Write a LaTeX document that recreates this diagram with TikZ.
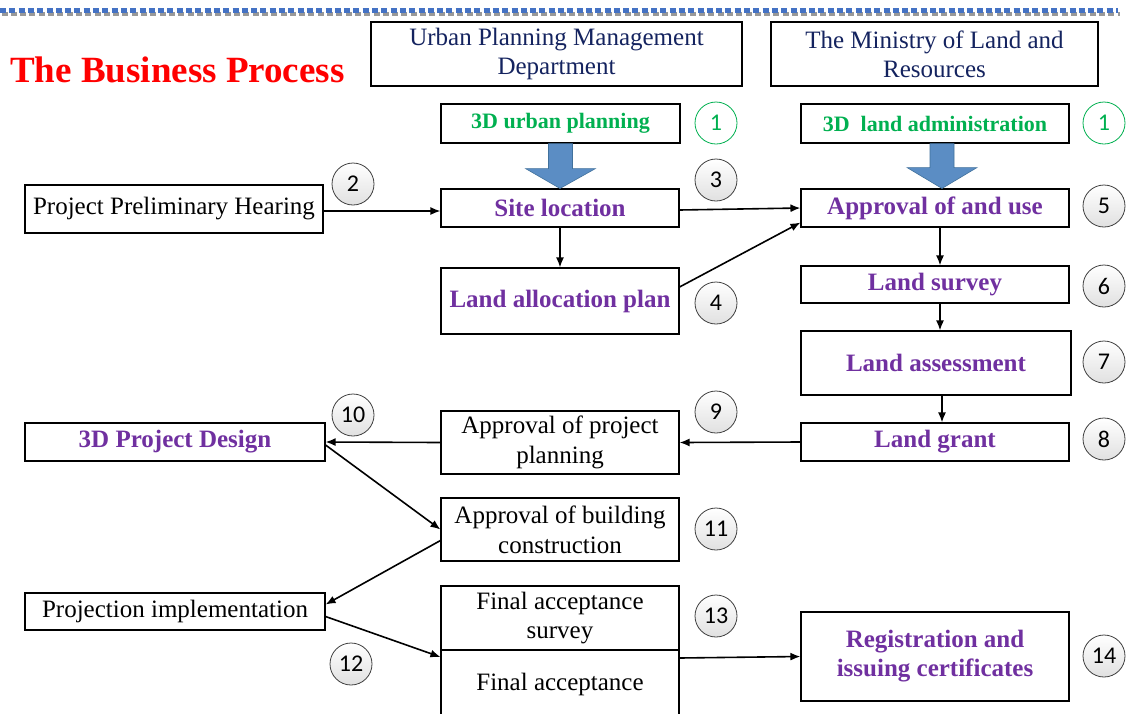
\documentclass[tikz,border=0pt]{standalone}
\usepackage{fontspec}
\setmainfont{Liberation Serif}
\newfontfamily\numfont{Carlito}
\usetikzlibrary{arrows.meta,calc}
\definecolor{navy}{RGB}{20,35,95}
\definecolor{pur}{RGB}{112,48,160}
\definecolor{grn}{RGB}{0,176,80}
\definecolor{arrfill}{RGB}{91,141,196}
\definecolor{arrdraw}{RGB}{65,113,156}
\definecolor{dashblue}{RGB}{68,114,196}
\begin{document}
\begin{tikzpicture}[x=1pt,y=-1pt,
  box/.style={draw=black, line width=1.1pt, inner sep=0pt, align=center, font=\fontsize{25}{30}\selectfont},
  hbox/.style={box, text=navy, font=\fontsize{25}{29}\selectfont},
  pbox/.style={box, text=pur, font=\fontsize{25}{29}\selectfont\bfseries},
  gbox/.style={box, text=grn, font=\fontsize{22}{26}\selectfont\bfseries},
  num/.style={circle, draw=black!75, line width=0.8pt, top color=white, bottom color=black!12, minimum size=42pt, inner sep=0pt, font=\numfont\fontsize{24}{24}\selectfont},
  gnum/.style={circle, draw=grn, line width=0.8pt, fill=white, text=grn, minimum size=42pt, inner sep=0pt, font=\numfont\fontsize{24}{24}\selectfont},
  conn/.style={-{Latex[length=10pt,width=8pt]}, line width=1.6pt},
  bigarrow/.style={fill=arrfill, draw=arrdraw, line width=0.6pt}]
\useasboundingbox (0,0) rectangle (1127,713);
\fill[white] (0,0) rectangle (1127,713);
% top dashed rule
\draw[black!40, line width=4pt, dash pattern=on 6pt off 3.3pt] (1.5,13.5) -- (1119.5,13.5);
\draw[dashblue, line width=5pt, dash pattern=on 6pt off 3.3pt] (0,10.5) -- (1118,10.5);
% title
\node[anchor=base west, inner sep=0pt, text=red, font=\fontsize{37}{40}\selectfont\bfseries] (title) at (10,82) {The Business Process};
% headers
\node[hbox, minimum width=371pt, minimum height=64pt] (hdrU) at (556.5,54) {Urban Planning Management\\Department};
\node[hbox, minimum width=327pt, minimum height=64pt] (hdrM) at (934.5,54) {The Ministry of Land and\\Resources};
% boxes
\node[gbox, minimum width=239pt, minimum height=39pt] (up) at (560.5,123.5) {3D urban planning};
\node[gbox, minimum width=268pt, minimum height=39pt] (lad) at (935,123.5) {3D~ land administration};
\node[box, minimum width=298pt, minimum height=48pt] (hear) at (174,209) {Project Preliminary Hearing};
\node[pbox, minimum width=238pt, minimum height=38pt] (site) at (560,208) {Site location};
\node[pbox, minimum width=268pt, minimum height=38pt] (appr) at (935,208) {Approval of and use};
\node[pbox, minimum width=238pt, minimum height=66pt] (alloc) at (560,301) {Land allocation plan};
\node[pbox, minimum width=268pt, minimum height=37pt] (survey) at (935,284.5) {Land survey};
\node[pbox, minimum width=270pt, minimum height=64pt] (assess) at (936,363) {Land assessment};
\node[pbox, minimum width=268pt, minimum height=38pt] (grant) at (935,442) {Land grant};
\node[box, minimum width=238pt, minimum height=63pt] (appp) at (560,442.5) {Approval of project\\planning};
\node[pbox, minimum width=300pt, minimum height=38pt] (design) at (175,442) {3D Project Design};
\node[box, minimum width=238pt, minimum height=63pt] (build) at (560,529.5) {Approval of building\\construction};
\node[box, minimum width=300pt, minimum height=37pt] (impl) at (175,611.5) {Projection implementation};
\node[box, minimum width=238pt, minimum height=64pt, font=\fontsize{25}{29}\selectfont] (fas) at (560,618) {Final acceptance\\survey};
\node[box, minimum width=238pt, minimum height=68pt] (fa) at (560,684) {Final acceptance};
\node[pbox, minimum width=268pt, minimum height=89pt] (reg) at (935,656.5) {Registration and\\issuing certificates};
% number circles
\node[gnum] (n1a) at (716,123) {1};
\node[gnum] (n1b) at (1104,123) {1};
\node[num] (n2) at (353,184) {2};
\node[num] (n3) at (716,180) {3};
\node[num] (n4) at (716,303) {4};
\node[num] (n5) at (1104,206) {5};
\node[num] (n6) at (1104,286) {6};
\node[num] (n7) at (1104,362) {7};
\node[num] (n8) at (1104,439) {8};
\node[num] (n9) at (716,412) {9};
\node[num] (n10) at (353,415) {10};
\node[num] (n11) at (716,529) {11};
\node[num] (n12) at (351,664) {12};
\node[num] (n13) at (716,616) {13};
\node[num] (n14) at (1104,656) {14};
% big blue arrows
\draw[bigarrow] ($(up.south)+(-12,0)$) -- ($(up.south)+(12,0)$) -- ($(up.south)+(12,25)$) -- ($(up.south)+(35,25)$) -- (site.north) -- ($(up.south)+(-35,25)$) -- ($(up.south)+(-12,25)$) -- cycle;
\draw[bigarrow] ($(lad.south)+(-5,0)$) -- ($(lad.south)+(19,0)$) -- ($(lad.south)+(19,24)$) -- ($(lad.south)+(42,24)$) -- ($(appr.north)+(7,0)$) -- ($(lad.south)+(-28,24)$) -- ($(lad.south)+(-5,24)$) -- cycle;
% connectors
\draw[conn] ($(hear.east)+(0,2)$) -- ($(site.west)+(0,3)$);
\draw[conn] ($(site.east)+(0,2)$) -- (appr.west);
\draw[conn] (site.south) -- (alloc.north);
\draw[conn] ($(alloc.east)+(0,-14)$) -- ($(appr.south west)+(0,-5)$);
\draw[conn] ($(appr.south)+(5,0)$) -- ($(survey.north)+(5,0)$);
\draw[conn] ($(survey.south)+(5,0)$) -- ($(assess.north)+(4,0)$);
\draw[conn] ($(assess.south)+(6,0)$) -- ($(grant.north)+(7,0)$);
\draw[conn] (grant.west) -- (appp.east);
\draw[conn] (appp.west) -- (design.east);
\draw[conn] ($(design.east)+(0,3)$) -- (build.west);
\draw[conn] ($(build.west)+(0,11)$) -- ($(impl.east)+(0,-7)$);
\draw[conn] ($(impl.east)+(0,5)$) -- ($(fa.west)+(0,-27)$);
\draw[conn] ($(fa.east)+(0,-26)$) -- (reg.west);
\end{tikzpicture}
\end{document}
